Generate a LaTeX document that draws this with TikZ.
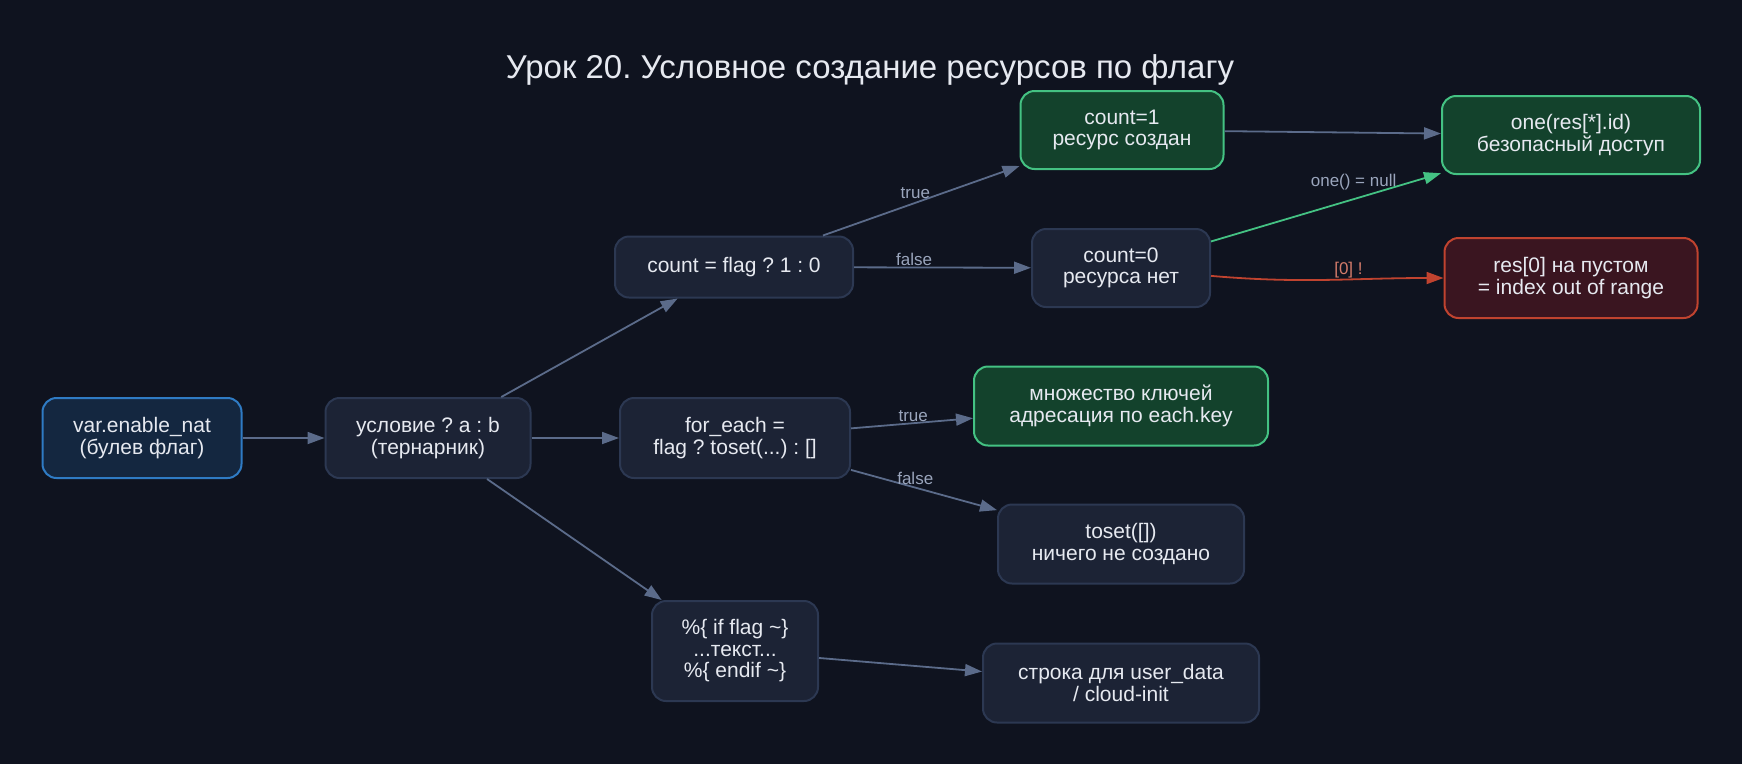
\documentclass[tikz,border=0pt]{standalone}
\usepackage{fontspec}
\setmainfont{Liberation Sans}
\usetikzlibrary{arrows.meta}
\definecolor{bgc}{HTML}{0F131F}
\definecolor{boxfill}{HTML}{1C2335}
\definecolor{boxline}{HTML}{2C3852}
\definecolor{bluefill}{HTML}{142740}
\definecolor{blueline}{HTML}{2F7BC4}
\definecolor{greenfill}{HTML}{13422C}
\definecolor{greenline}{HTML}{44C283}
\definecolor{redfill}{HTML}{3A1520}
\definecolor{redline}{HTML}{C0432F}
\definecolor{edgec}{HTML}{5B6B8A}
\definecolor{txt}{HTML}{E6E9F0}
\definecolor{lblc}{HTML}{9AA5BC}
\definecolor{redlbl}{HTML}{D47B6A}
\frenchspacing

\begin{document}
\begin{tikzpicture}[x=1pt,y=-1pt,
  box/.style={draw=boxline, fill=boxfill, line width=2pt, rounded corners=14pt,
    text=txt, align=center, inner sep=0pt, font=\fontsize{21}{21.5}\selectfont},
  bluebox/.style={box, draw=blueline, fill=bluefill},
  greenbox/.style={box, draw=greenline, fill=greenfill},
  redbox/.style={box, draw=redline, fill=redfill},
  edge/.style={draw=edgec, line width=1.8pt, -{Triangle[length=17pt,width=12pt]}},
  lbl/.style={text=lblc, inner sep=1pt, font=\fontsize{17}{17}\selectfont}]
\fill[bgc] (0,0) rectangle (1742,764);
\node[text=txt, font=\fontsize{33}{33}\selectfont] (title) at (870,70) {Урок 20. Условное создание ресурсов по флагу};

\node[bluebox, minimum width=199pt, minimum height=80pt] (var) at (142,438) {var.enable\_nat\\(булев флаг)};
\node[box, minimum width=205pt, minimum height=80pt] (cond) at (428,438) {условие ? a : b\\(тернарник)};
\node[box, minimum width=238pt, minimum height=61pt] (cnt) at (734,267) {count = flag ? 1 : 0};
\node[box, minimum width=230pt, minimum height=80pt] (fe) at (735,438) {for\_each =\\flag ? toset(...) : []};
\node[box, minimum width=166pt, minimum height=100pt] (tpl) at (735,651) {\%\{ if flag \textasciitilde\}\\...текст...\\\%\{ endif \textasciitilde\}};
\node[greenbox, minimum width=203pt, minimum height=78pt] (cnt1) at (1122,130) {count=1\\ресурс создан};
\node[box, minimum width=178pt, minimum height=78pt] (cnt0) at (1121,268) {count=0\\ресурса нет};
\node[greenbox, minimum width=294pt, minimum height=79pt] (keys) at (1121,406) {множество ключей\\адресация по each.key};
\node[box, minimum width=246pt, minimum height=79pt] (empty) at (1121,544) {toset([])\\ничего не создано};
\node[box, minimum width=276pt, minimum height=79pt] (str) at (1121,683) {строка для user\_data\\/ cloud-init};
\node[greenbox, minimum width=258pt, minimum height=78pt] (one) at (1571,135) {one(res[*].id)\\безопасный доступ};
\node[redbox, minimum width=253pt, minimum height=80pt] (res0) at (1571,278) {res[0] на пустом\\= index out of range};

\draw[edge] (var) -- (cond);
\draw[edge] (cond) -- (cnt);
\draw[edge] (cond) -- (fe);
\draw[edge] (cond) -- (tpl);
\draw[edge] (cnt) -- node[lbl, pos=.47, above=2pt] {true} (cnt1);
\draw[edge] (cnt) -- node[lbl, pos=.34, above] {false} (cnt0);
\draw[edge] (fe) -- node[lbl, pos=.51, above] {true} (keys);
\draw[edge] (fe) -- node[lbl, pos=.44, above=1pt] {false} (empty);
\draw[edge] (tpl) -- (str);
\draw[edge] (cnt1) -- (one);
\draw[edge, draw=greenline] (cnt0) -- node[lbl, pos=.62, above=7pt] {one() = null} (one);
\draw[edge, draw=redline] (cnt0.-5) to[out=-5, in=180] node[lbl, text=redlbl, pos=.6, above] {[0] !} (res0.west);
\end{tikzpicture}
\end{document}
